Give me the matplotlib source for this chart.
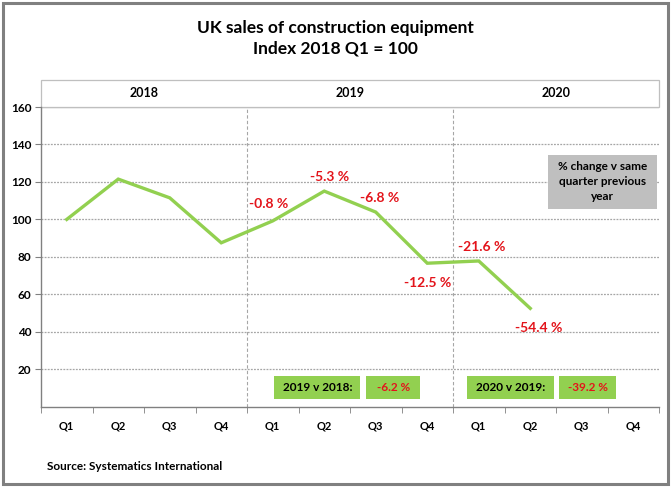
import matplotlib
matplotlib.use('Agg')
import matplotlib.pyplot as plt
from matplotlib.patches import Rectangle

years = ['2018', '2019', '2020']
quarters = ['Q1', 'Q2', 'Q3', 'Q4']
index_values = [100, 121.5, 111.5, 87.5, 99.2, 115.1, 103.9, 76.6, 77.8, 52.5]
pct_labels = ['-0.8 %', '-5.3 %', '-6.8 %', '-12.5 %', '-21.6 %', '-54.4 %']
# offsets (points) for the yoy labels, starting at 2019 Q1
label_offsets = [(-3, 12), (4, 10), (3, 10), (0, -14), (2, 10), (6, -14)]
yearly_labels = ['2019 v 2018:', '2020 v 2019:']
yearly_values = ['-6.2 %', '-39.2 %']

plt.rcParams['font.family'] = ['Lato', 'DejaVu Sans']

GREEN = '#92d050'
RED = '#e3141b'
GRID = '#a6a6a6'

fig = plt.figure(figsize=(6.71, 4.87), dpi=100)
ax = fig.add_axes([41 / 671, 1 - 406.7 / 487, 618 / 671, 299.7 / 487])

n = len(years) * len(quarters)
x = list(range(len(index_values)))
ax.plot(x, index_values, color=GREEN, lw=2.4, solid_joinstyle='miter', zorder=3)

ax.set_xlim(-0.5, n - 0.5)
ax.set_ylim(0, 160)

# y axis
ax.set_yticks(range(20, 161, 20))
ax.set_yticklabels([str(v) for v in range(20, 161, 20)], fontsize=8.5, fontweight='bold')
ax.tick_params(axis='y', direction='out', length=4, color='#808080', pad=3)
for v in range(20, 160, 20):
    ax.axhline(v, color=GRID, lw=0.9, ls=(0, (1.5, 1.0)), zorder=1)
ax.axhline(160, color=GRID, lw=0.9, zorder=1)

# x axis: quarter labels at centres, ticks at boundaries
ax.set_xticks(range(n))
ax.set_xticklabels(quarters * len(years), fontsize=8, fontweight='bold')
ax.tick_params(axis='x', length=0, pad=10)
ax.set_xticks([i - 0.5 for i in range(n + 1)], minor=True)
ax.tick_params(axis='x', which='minor', direction='out', length=4, color='#808080')

for s in ['top', 'right']:
    ax.spines[s].set_visible(False)
for s in ['left', 'bottom']:
    ax.spines[s].set_color('#808080')
    ax.spines[s].set_linewidth(1.0)

# year separators
for k in range(1, len(years)):
    ax.axvline(k * 4 - 0.5, color=GRID, lw=0.8, ls=(0, (3, 2)), zorder=1)

# year header band
hdr_top = 160 + 27 / 1.873
ax.add_patch(Rectangle((-0.5, 160), n, hdr_top - 160, fill=False,
                       ec='#bfbfbf', lw=0.9, clip_on=False))
for k, yr in enumerate(years):
    ax.text(k * 4 + 1.5, (160 + hdr_top) / 2, yr, ha='center', va='center',
            fontsize=9, fontweight='bold', clip_on=False)

# yoy labels
for i, (lab, off) in enumerate(zip(pct_labels, label_offsets)):
    xi = i + 4
    ax.annotate(lab, (xi, index_values[xi]), xytext=off, textcoords='offset points',
                ha='center', va='center', color=RED, fontsize=10, fontweight='bold')

# note box
ax.add_patch(Rectangle((9.34, 105.6), 2.12, 28.8, fc='#bfbfbf', ec='none', zorder=2))
ax.text(10.4, 120, '% change v same\nquarter previous\nyear', ha='center', va='center',
        fontsize=8.5, fontweight='bold', linespacing=1.45, zorder=3)

# yearly comparison boxes
box_x = [(4.03, 5.7, 5.82, 6.86), (7.78, 9.47, 9.56, 10.67)]
for (a0, a1, b0, b1), lab, val in zip(box_x, yearly_labels, yearly_values):
    ax.add_patch(Rectangle((a0, 4.0), a1 - a0, 12.3, fc=GREEN, ec='none', zorder=2))
    ax.add_patch(Rectangle((b0, 4.0), b1 - b0, 12.3, fc=GREEN, ec='none', zorder=2))
    ax.text((a0 + a1) / 2, 10.2, lab, ha='center', va='center', fontsize=8.5,
            fontweight='bold', zorder=3)
    ax.text((b0 + b1) / 2, 10.2, val, ha='center', va='center', fontsize=8.5,
            fontweight='bold', color=RED, zorder=3)

fig.text(0.5, 1 - 28 / 487, 'UK sales of construction equipment', ha='center', va='center',
         fontsize=12.5, fontweight='bold')
fig.text(0.5, 1 - 48 / 487, 'Index 2018 Q1 = 100', ha='center', va='center',
         fontsize=12.5, fontweight='bold')
fig.text(47 / 671, 1 - 467 / 487, 'Source: Systematics International', ha='left', va='center',
         fontsize=8.5, fontweight='bold')

# outer border
fig.add_artist(Rectangle((3 / 671, 3 / 487), 665 / 671, 481 / 487, transform=fig.transFigure,
                         fill=False, ec='#808080', lw=2.2))

fig.savefig('out.png', dpi=100)
